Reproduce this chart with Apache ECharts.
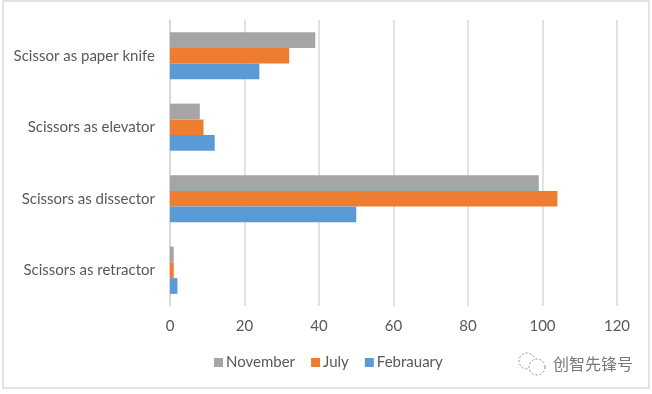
<!DOCTYPE html>
<html><head><meta charset="utf-8">
<style>html,body{margin:0;padding:0;background:#fff}#c{width:652px;height:394px}</style>
<script src="https://cdn.jsdelivr.net/npm/echarts@6/dist/echarts.min.js"></script>
</head><body><div id="c"></div>
<script>
const categories = ['Scissors as retractor','Scissors as dissector','Scissors as elevator','Scissor as paper knife'];
const february = [2,50,12,24];
const july = [1,104,9,32];
const november = [1,99,8,39];
const legendOrder = ['November','July','Febrauary'];
const xTicks = {min:0,max:120,interval:20};
const font = 'Lato';
const chart = echarts.init(document.getElementById('c'),null,{renderer:'canvas'});
const mk=(name,data,color)=>({name,type:'bar',data,barGap:0,barCategoryGap:'34%',itemStyle:{color},silent:true});
chart.setOption({
  animation:false,
  grid:{left:170,right:35,top:20,bottom:88,containLabel:false},
  legend:{data:legendOrder,left:209,top:350,itemWidth:9,itemHeight:9,itemGap:16,icon:'rect',
    textStyle:{fontFamily:font,fontSize:15,color:'#595959',padding:[0,0,0,-2]}},
  xAxis:{type:'value',min:xTicks.min,max:xTicks.max,interval:xTicks.interval,
    axisLine:{show:false},axisTick:{show:false},
    axisLabel:{fontFamily:font,fontSize:15,color:'#595959',margin:13},
    splitLine:{lineStyle:{color:'#d9d9d9',width:1.5}}},
  yAxis:{type:'category',data:categories,
    axisLine:{show:true,lineStyle:{color:'#d4d4d4',width:1.5}},axisTick:{show:false},
    axisLabel:{fontFamily:font,fontSize:15,color:'#595959',margin:15}},
  series:[mk('November',november,'#a5a5a5'),mk('July',july,'#ed7d31'),mk('Febrauary',february,'#5b9bd5')],
  graphic:[
    {type:'rect',silent:true,shape:{x:3,y:1,width:646,height:387},style:{fill:'none',stroke:'#d9d9d9',lineWidth:1.5},z:-1},
    {type:'circle',silent:true,shape:{cx:527,cy:361,r:8},style:{fill:'none',stroke:'#8a8a8a',lineWidth:1,lineDash:[2,2]}},
    {type:'circle',silent:true,shape:{cx:537,cy:367,r:8},style:{fill:'#fff',stroke:'#8a8a8a',lineWidth:1,lineDash:[2,2]}},
    {type:'text',silent:true,left:553,top:356,style:{text:'创智先锋号',fontFamily:'Noto Sans CJK SC',fontSize:16,fill:'#7a7a7a'}}
  ]
});
</script></body></html>
